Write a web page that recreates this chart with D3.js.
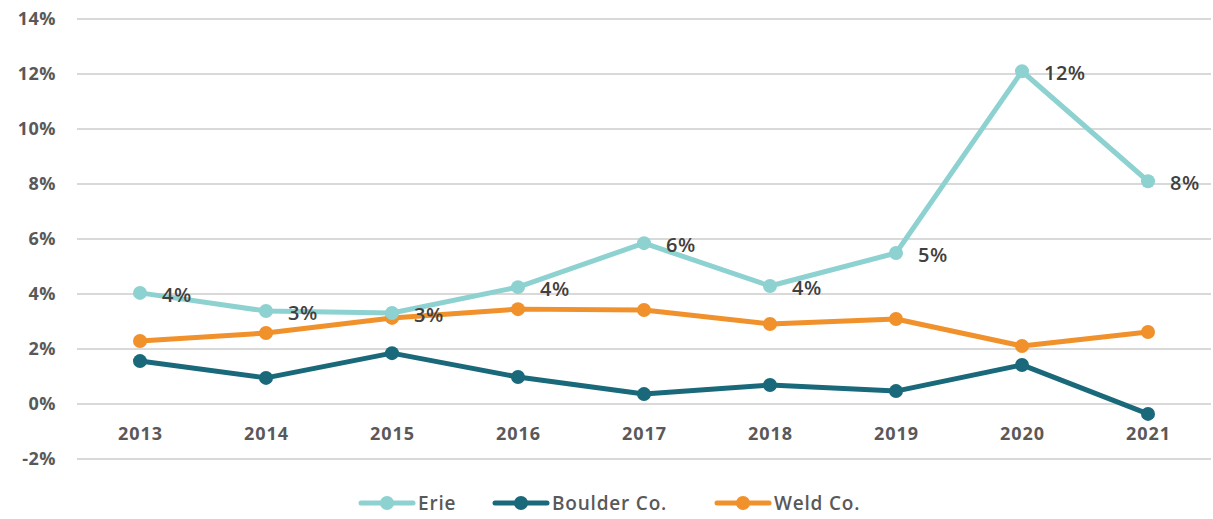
<!DOCTYPE html>
<html>
<head>
<meta charset="utf-8">
<script src="https://cdn.jsdelivr.net/npm/d3@7"></script>
<style>
  body { margin: 0; background: #fff; }
  text { font-family: "Open Sans", Lato, sans-serif; }
</style>
</head>
<body>
<div id="chart"></div>
<script>
// data
const years = ["2013","2014","2015","2016","2017","2018","2019","2020","2021"];
const erie = [4.04, 3.38, 3.31, 4.25, 5.85, 4.29, 5.49, 12.1, 8.1];
const boulder = [1.56, 0.95, 1.85, 0.98, 0.36, 0.69, 0.47, 1.42, -0.36];
const weld = [2.29, 2.58, 3.13, 3.45, 3.42, 2.91, 3.09, 2.11, 2.62];
const erieLabels = ["4%","3%","3%","4%","6%","4%","5%","12%","8%"];
const yTicks = [-2, 0, 2, 4, 6, 8, 10, 12, 14];

const series = [
  {name: "Erie", values: erie, color: "#8dd2d1"},
  {name: "Boulder Co.", values: boulder, color: "#19697a"},
  {name: "Weld Co.", values: weld, color: "#f0912b"}
];

let width = 1213, height = 519;
let margin = {top: 19, right: 2, bottom: 60, left: 77};

let svg = d3.select("#chart").append("svg")
  .attr("width", width)
  .attr("height", height);

// scales
let x = d3.scalePoint()
  .domain(years)
  .range([margin.left, width - margin.right])
  .padding(0.5);

let y = d3.scaleLinear()
  .domain([-2, 14])
  .range([459, 19]);

// gridlines
svg.append("g")
  .selectAll("line")
  .data(yTicks)
  .join("line")
  .attr("x1", margin.left)
  .attr("x2", width - margin.right)
  .attr("y1", d => y(d))
  .attr("y2", d => y(d))
  .attr("stroke", "#d9d9d9")
  .attr("stroke-width", 2);

// y axis labels
let yAxis = d3.axisLeft(y).tickValues(yTicks).tickFormat(d => d + "%").tickSize(0).tickPadding(0);
svg.append("g")
  .attr("transform", "translate(56,0)")
  .call(yAxis)
  .call(g => g.select(".domain").remove())
  .selectAll("text")
  .attr("font-size", 18)
  .attr("font-weight", 700)
  .attr("letter-spacing", 0.5)
  .attr("fill", "#595959")
  .attr("font-family", "'Open Sans', sans-serif");

// x axis labels
let xAxis = d3.axisBottom(x).tickSize(0).tickPadding(0);
svg.append("g")
  .attr("transform", "translate(0,427)")
  .call(xAxis)
  .call(g => g.select(".domain").remove())
  .selectAll("text")
  .attr("dy", "0.71em")
  .attr("font-size", 18)
  .attr("font-weight", 700)
  .attr("letter-spacing", 1)
  .attr("fill", "#595959")
  .attr("font-family", "'Open Sans', sans-serif");

// lines
let line = d3.line()
  .x((d, i) => x(years[i]))
  .y(d => y(d));

// erie drawn last so it sits on top of weld around 2015
let drawOrder = [series[1], series[2], series[0]];
drawOrder.forEach(s => {
  svg.append("path")
    .datum(s.values)
    .attr("fill", "none")
    .attr("stroke", s.color)
    .attr("stroke-width", 5)
    .attr("stroke-linejoin", "round")
    .attr("d", line);
  svg.append("g")
    .selectAll("circle")
    .data(s.values)
    .join("circle")
    .attr("cx", (d, i) => x(years[i]))
    .attr("cy", d => y(d))
    .attr("r", 7)
    .attr("fill", s.color);
});

// data labels for Erie
svg.append("g")
  .selectAll("text")
  .data(erie)
  .join("text")
  .attr("x", (d, i) => x(years[i]) + 22)
  .attr("y", d => y(d) + 2)
  .attr("dy", "0.35em")
  .attr("font-size", 20)
  .attr("font-weight", 600)
  .attr("letter-spacing", 0.5)
  .attr("fill", "#404040")
  .text((d, i) => erieLabels[i]);

// legend
let legendX = [361, 495, 717];
let legend = svg.append("g");
series.forEach((s, i) => {
  let g = legend.append("g").attr("transform", "translate(" + legendX[i] + ",503)");
  g.append("line")
    .attr("x1", 0).attr("x2", 52)
    .attr("stroke", s.color)
    .attr("stroke-width", 5)
    .attr("stroke-linecap", "round");
  g.append("circle")
    .attr("cx", 26).attr("r", 7)
    .attr("fill", s.color);
  g.append("text")
    .attr("x", 57)
    .attr("dy", "0.35em")
    .attr("font-size", 19)
    .attr("font-weight", 600)
    .attr("letter-spacing", 0.8)
    .attr("fill", "#595959")
    .text(s.name);
});
</script>
</body>
</html>
